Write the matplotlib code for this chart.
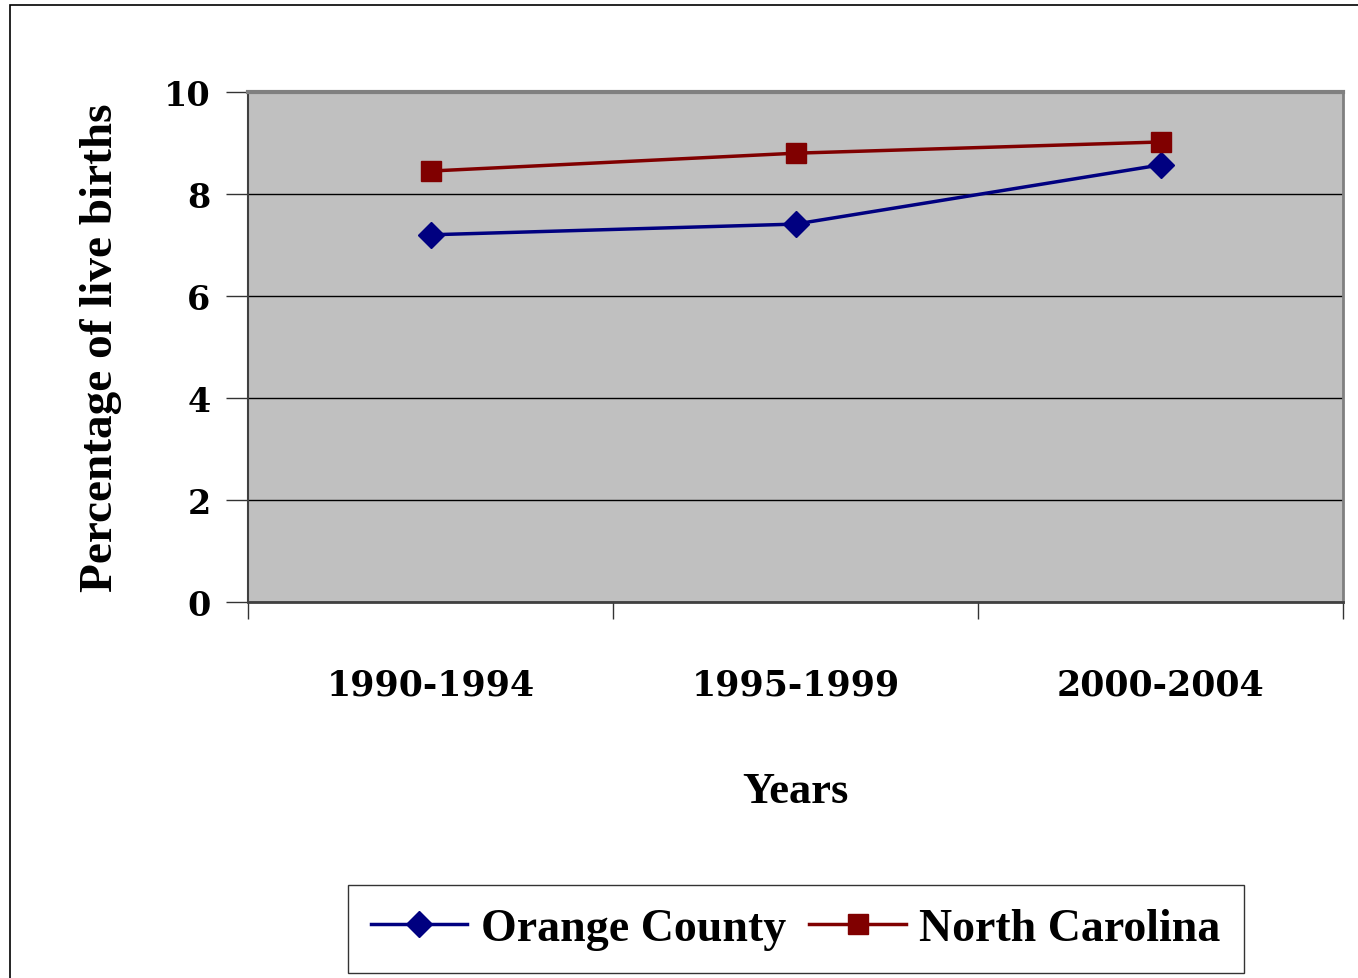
import matplotlib.pyplot as plt
from matplotlib.patches import Rectangle

periodes = ["1990-1994", "1995-1999", "2000-2004"]
orange = [7.2, 7.41, 8.57]
caroline = [8.45, 8.8, 9.02]
yticks = [0, 2, 4, 6, 8, 10]

police = "Liberation Serif"
chiffres = "DejaVu Serif"

fig = plt.figure(figsize=(13.58, 9.79), dpi=100)
fig.patches.append(Rectangle((10 / 1358, -0.1), 1.2, 1 - 6 / 979 + 0.1,
                             transform=fig.transFigure, fill=False,
                             edgecolor="black", linewidth=1.2))

ax = fig.add_axes([248 / 1358, 1 - 603 / 979, (1343 - 248) / 1358, (603 - 93) / 979])
ax.set_facecolor("#c0c0c0")

x = range(len(periodes))
ax.plot(x, orange, color="#000080", linewidth=2.5, marker="D", markersize=13,
        label="Orange County", zorder=3)
ax.plot(x, caroline, color="#800000", linewidth=2.5, marker="s", markersize=14,
        label="North Carolina", zorder=3)

ax.set_xlim(-0.5, 2.5)
ax.set_ylim(0, 10)
ax.set_yticks(yticks)
ax.set_yticklabels([str(v) for v in yticks], fontfamily=chiffres, fontweight="bold", fontsize=24)
ax.yaxis.grid(True, color="black", linewidth=1)
ax.set_axisbelow(True)

# ticks entre les categories, labels centres
ax.set_xticks([-0.5, 0.5, 1.5, 2.5])
ax.set_xticklabels([])
ax.set_xticks(list(x), minor=True)
ax.set_xticklabels(periodes, minor=True, fontfamily=chiffres, fontweight="bold", fontsize=25)
ax.tick_params(axis="x", which="minor", length=0, pad=47)
ax.tick_params(axis="x", which="major", length=12, width=1, color="#333333")
ax.tick_params(axis="y", length=16, width=1, pad=11, color="#333333")

for c in ["top", "right"]:
    ax.spines[c].set_color("#808080")
ax.spines["top"].set_linewidth(3)
ax.spines["right"].set_linewidth(2)
ax.spines["left"].set_color("#404040")
ax.spines["left"].set_linewidth(1.5)
ax.spines["bottom"].set_color("#404040")
ax.spines["bottom"].set_linewidth(2)

ax.set_xlabel("Years", fontfamily=police, fontweight="bold", fontsize=32, labelpad=50)
ax.set_ylabel("Percentage of live births", fontfamily=police, fontweight="bold",
              fontsize=34, labelpad=30)

leg = fig.legend(loc="center", bbox_to_anchor=(796 / 1358, 1 - 930 / 979), ncol=2,
                 prop={"family": police, "weight": "bold", "size": 33},
                 frameon=True, fancybox=False, edgecolor="black", handlelength=2.1,
                 columnspacing=0.5, handletextpad=0.3, borderpad=0.5)
leg.get_frame().set_linewidth(1)

plt.savefig("out.png", dpi=100)
